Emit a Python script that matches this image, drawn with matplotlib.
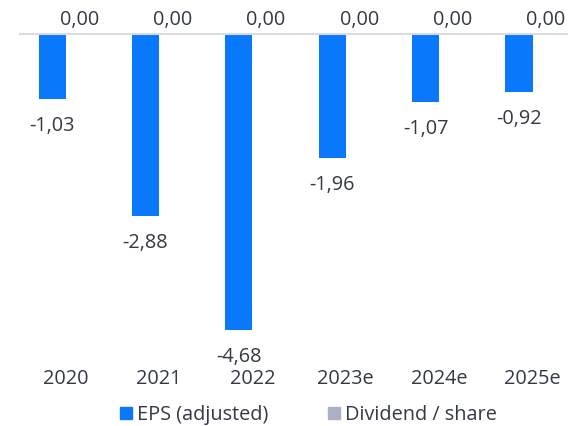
import matplotlib
matplotlib.use("Agg")
import matplotlib.pyplot as plt
import numpy as np
from matplotlib.patches import Patch

years = ["2020", "2021", "2022", "2023e", "2024e", "2025e"]
eps = [-1.03, -2.88, -4.68, -1.96, -1.07, -0.92]
dividend = [0.00, 0.00, 0.00, 0.00, 0.00, 0.00]

plt.rcParams['font.family'] = ['Open Sans', 'DejaVu Sans']
text_color = "#333a45"
blue = "#0a78fb"
grey = "#abb1c3"
fs = 14.3

W, H = 568, 426
fig = plt.figure(figsize=(W/100, H/100), dpi=100)
ax = fig.add_axes([19/W, 1 - 345/H, 1 - 19/W, (345 - 10)/H])

x = np.arange(len(years))
w = 0.29
ax.bar(x - w/2, eps, width=w, color=blue, zorder=2)
ax.bar(x + w/2, dividend, width=w, color=grey, zorder=2)

for xi, v in zip(x, eps):
    ax.annotate(f"{v:.2f}".replace(".", ","), (xi - w/2, v), xytext=(0, -27),
                textcoords="offset pixels", ha="center", va="center",
                fontsize=fs, color=text_color)
for xi, v in zip(x, dividend):
    ax.annotate(f"{v:.2f}".replace(".", ","), (xi + w/2, v), xytext=(0, 14),
                textcoords="offset pixels", ha="center", va="center",
                fontsize=fs, color=text_color)

ax.axhline(0, color="#d9dde3", lw=1.5, zorder=3)
ax.set_xlim(-0.5, 5.38)
ax.set_ylim(-4.92, 0.38)
ax.set_xticks(x)
ax.set_xticklabels(years, fontsize=fs, color=text_color)
ax.tick_params(axis="x", length=0, pad=17)
ax.set_yticks([])
for s in ax.spines.values():
    s.set_visible(False)

handles = [Patch(color=blue, label="EPS (adjusted)"),
           Patch(color=grey, label="Dividend / share")]
fig.legend(handles=handles, loc="center", bbox_to_anchor=(0.543, 1 - 415/H),
           ncol=2, frameon=False, fontsize=fs, labelcolor=text_color,
           handlelength=0.6, handleheight=0.6, handletextpad=0.25,
           columnspacing=3.0)

fig.savefig("out.png", dpi=100)
